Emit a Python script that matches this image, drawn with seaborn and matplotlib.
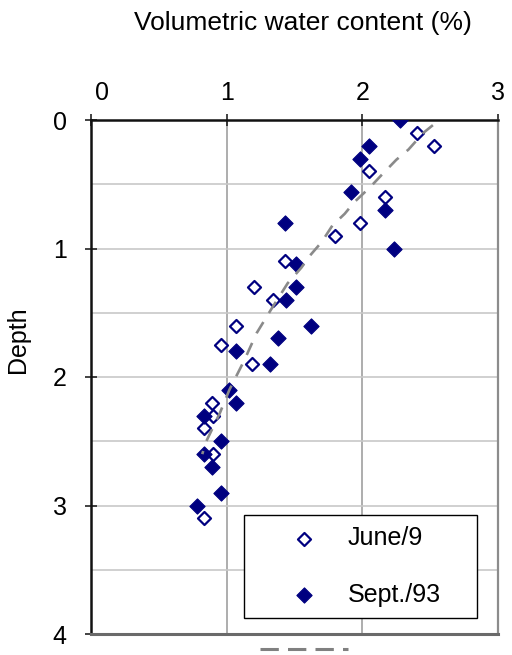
import matplotlib
matplotlib.use("Agg")
import matplotlib.pyplot as plt
from matplotlib.lines import Line2D
from matplotlib.transforms import ScaledTranslation
import seaborn as sns

# ---- data ----
june_x = [2.40, 2.53, 2.05, 2.17, 1.98, 1.80, 1.43, 1.20, 1.34, 1.07, 0.96, 1.19, 0.89, 0.90, 0.83, 0.90, 0.83]
june_depth = [0.10, 0.20, 0.40, 0.60, 0.80, 0.90, 1.10, 1.30, 1.40, 1.60, 1.75, 1.90, 2.20, 2.30, 2.40, 2.60, 3.10]

sept_x = [2.28, 2.05, 1.98, 1.92, 2.17, 1.43, 2.23, 1.51, 1.51, 1.44, 1.62, 1.38, 1.07, 1.32, 1.02, 1.07, 0.83, 0.96, 0.83, 0.89, 0.96, 0.78]
sept_depth = [0.00, 0.20, 0.30, 0.56, 0.70, 0.80, 1.00, 1.12, 1.30, 1.40, 1.60, 1.70, 1.80, 1.90, 2.10, 2.20, 2.30, 2.50, 2.60, 2.70, 2.90, 3.00]

trend_x = [2.52, 2.45, 2.34, 2.25, 2.14, 2.06, 1.94, 1.87, 1.78, 1.70, 1.61, 1.55, 1.45, 1.33, 1.22, 1.13, 1.02, 0.95, 0.85, 0.82]
trend_depth = [0.04, 0.10, 0.23, 0.31, 0.43, 0.52, 0.64, 0.73, 0.82, 0.95, 1.06, 1.15, 1.27, 1.47, 1.66, 1.87, 2.10, 2.28, 2.50, 2.60]

x_ticks = [0, 1, 2, 3]
y_ticks = [0, 1, 2, 3, 4]
y_minor = [0.5, 1.5, 2.5, 3.5]
labels = ["June/9", "Sept./93"]
x_title = "Volumetric water content (%)"
y_title = "Depth"

# ---- style ----
sns.set_style("white")
plt.rcParams["font.family"] = ["Liberation Sans", "DejaVu Sans"]
plt.rcParams["text.color"] = "black"
plt.rcParams["axes.labelcolor"] = "black"
plt.rcParams["xtick.color"] = "black"
plt.rcParams["ytick.color"] = "black"
plt.rcParams["xtick.labelcolor"] = "black"
plt.rcParams["ytick.labelcolor"] = "black"
FS = 18
NAVY = "#000080"

fig = plt.figure(figsize=(5.12, 6.55), dpi=100)
ax = fig.add_axes([91 / 512, 1 - 634 / 655, 407 / 512, 514 / 655])

sns.scatterplot(x=june_x, y=june_depth, ax=ax, marker="D", s=44,
                facecolor="white", edgecolor=NAVY, linewidth=1.6,
                label=labels[0], zorder=3)
sns.scatterplot(x=sept_x, y=sept_depth, ax=ax, marker="D", s=60,
                color=NAVY, edgecolor=NAVY, linewidth=0.8,
                label=labels[1], zorder=4)
sns.lineplot(x=trend_x, y=trend_depth, ax=ax, sort=False, estimator=None,
             color="#8a8a8a", linewidth=1.9, linestyle=(0, (5, 4)),
             zorder=5, legend=False)

ax.set_xlim(0, 3)
ax.set_ylim(4, 0)
ax.set_xticks(x_ticks)
ax.set_yticks(y_ticks)
ax.set_yticks(y_minor, minor=True)
ax.set_xticklabels([str(v) for v in x_ticks])
ax.set_yticklabels([str(v) for v in y_ticks])

ax.xaxis.tick_top()
ax.xaxis.set_label_position("top")
ax.tick_params(axis="x", which="major", top=True, bottom=False, labeltop=True,
               labelbottom=False, direction="inout", length=9, width=1.2,
               color="#222222", labelcolor="black", labelsize=FS, pad=6)
ax.tick_params(axis="y", which="major", left=True, direction="inout",
               length=9, width=1.2, color="#222222", labelcolor="black",
               labelsize=FS, pad=13)
ax.tick_params(axis="y", which="minor", left=False, right=False)

# first x label sits slightly right of its tick in the reference
first = ax.get_xticklabels()[0]
first.set_transform(first.get_transform() + ScaledTranslation(8 / 72, 0, fig.dpi_scale_trans))

ax.grid(False)
ax.yaxis.grid(True, which="both", color="#c8c8c8", linewidth=1.2, zorder=0)
ax.xaxis.grid(True, which="major", color="#a0a0a0", linewidth=1.2, zorder=0)
ax.set_axisbelow(True)

for side in ["top", "left"]:
    ax.spines[side].set_color("#111111")
    ax.spines[side].set_linewidth(1.8)
ax.spines["right"].set_color("#8c8c8c")
ax.spines["right"].set_linewidth(1.6)
ax.spines["bottom"].set_color("#6a6a6a")
ax.spines["bottom"].set_linewidth(2.2)
for s in ax.spines.values():
    s.set_visible(True)

ax.set_xlabel(x_title, fontsize=19, color="black")
ax.set_ylabel(y_title, fontsize=FS, color="black")
ax.xaxis.set_label_coords(0.520, 1.175)
ax.yaxis.set_label_coords(-0.149, 0.572)

leg = ax.legend(loc="lower left", bbox_to_anchor=(0.376, 0.031, 0.573, 0.204),
                mode="expand", fontsize=FS, frameon=True, fancybox=False,
                edgecolor="black", framealpha=1, borderpad=0.45,
                labelspacing=1.3, handlelength=3.9, handletextpad=-0.2,
                borderaxespad=0, labelcolor="black")
leg.get_frame().set_linewidth(1.0)
ax.add_artist(leg)

dash_handle = Line2D([0], [0], color="#808080", linewidth=2.2, linestyle=(0, (6, 3)))
ax.legend(handles=[dash_handle], labels=[""], loc="center",
          bbox_to_anchor=(0.523, -0.0325), frameon=False, handlelength=3.54,
          handletextpad=0, borderpad=0, borderaxespad=0, fontsize=FS)

fig.savefig("out.png", dpi=100)
